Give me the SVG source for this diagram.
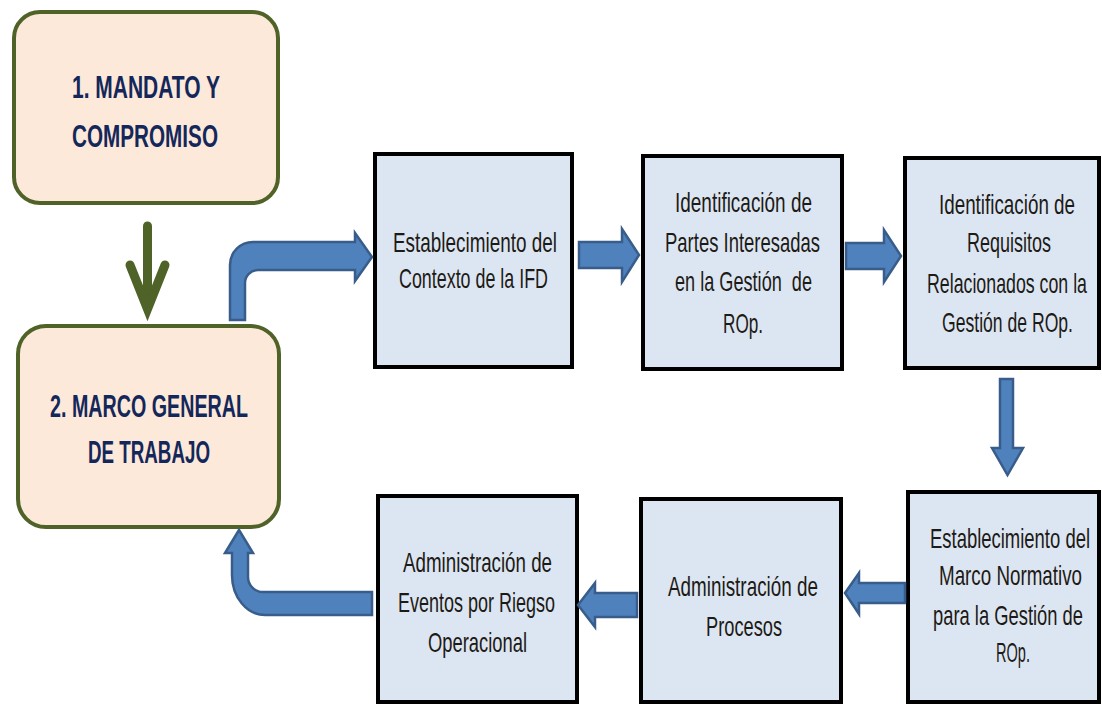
<svg xmlns="http://www.w3.org/2000/svg" width="1102" height="706" viewBox="0 0 1102 706">
  <style>
    .phase { fill: #fde9d9; stroke: #4f6228; stroke-width: 4; }
    .step { fill: #dce6f2; stroke: #000000; stroke-width: 4; }
    .phase-label { font-family: "Liberation Sans", Arial, sans-serif; font-weight: bold; font-size: 31px; fill: #14275a; text-anchor: middle; }
    .step-label { font-family: "Liberation Sans", Arial, sans-serif; font-size: 27px; fill: #1e1a16; text-anchor: middle; white-space: pre; }
    .flow { fill: #4f81bd; stroke: #385d8a; stroke-width: 2.5; stroke-linejoin: miter; }
    .down { fill: none; stroke: #4f6228; stroke-width: 9; stroke-linecap: round; stroke-linejoin: miter; }
  </style>
  <rect width="1102" height="706" fill="#ffffff"/>

  <!-- phase 1 -->
  <g id="mandato">
    <rect class="phase" x="14" y="12" width="264" height="191" rx="26" ry="26"/>
    <text class="phase-label" x="146" y="98" textLength="148" lengthAdjust="spacingAndGlyphs">1. MANDATO Y</text>
    <text class="phase-label" x="145" y="147" textLength="146" lengthAdjust="spacingAndGlyphs">COMPROMISO</text>
  </g>

  <!-- phase 2 -->
  <g id="marco-general">
    <rect class="phase" x="18" y="326" width="261" height="201" rx="28" ry="28"/>
    <text class="phase-label" x="149" y="417" textLength="198" lengthAdjust="spacingAndGlyphs">2. MARCO GENERAL</text>
    <text class="phase-label" x="149" y="463" textLength="122" lengthAdjust="spacingAndGlyphs">DE TRABAJO</text>
  </g>

  <!-- process steps; labels are set in a condensed cut (horizontal scale 0.67) -->
  <g id="contexto">
    <rect class="step" x="375" y="154" width="197" height="213"/>
    <text class="step-label" transform="translate(475,252) scale(0.67,1)" textLength="244.8" lengthAdjust="spacingAndGlyphs">Establecimiento del</text>
    <text class="step-label" transform="translate(473.5,288) scale(0.67,1)" textLength="222.4" lengthAdjust="spacingAndGlyphs">Contexto de la IFD</text>
  </g>

  <g id="partes-interesadas">
    <rect class="step" x="643" y="156" width="199" height="213"/>
    <text class="step-label" transform="translate(743.5,212) scale(0.67,1)" textLength="204.5" lengthAdjust="spacingAndGlyphs">Identificación de</text>
    <text class="step-label" transform="translate(742.5,252) scale(0.67,1)" textLength="231.3" lengthAdjust="spacingAndGlyphs">Partes Interesadas</text>
    <text class="step-label" transform="translate(743.5,291) scale(0.67,1)" textLength="204.5" lengthAdjust="spacingAndGlyphs">en la Gestión  de</text>
    <text class="step-label" transform="translate(743,333) scale(0.67,1)" textLength="59.7" lengthAdjust="spacingAndGlyphs">ROp.</text>
  </g>

  <g id="requisitos">
    <rect class="step" x="905" y="158" width="194" height="210"/>
    <text class="step-label" transform="translate(1007,214) scale(0.67,1)" textLength="203" lengthAdjust="spacingAndGlyphs">Identificación de</text>
    <text class="step-label" transform="translate(1009,252) scale(0.67,1)" textLength="125.4" lengthAdjust="spacingAndGlyphs">Requisitos</text>
    <text class="step-label" transform="translate(1007,293) scale(0.67,1)" textLength="238.8" lengthAdjust="spacingAndGlyphs">Relacionados con la</text>
    <text class="step-label" transform="translate(1007.5,332) scale(0.67,1)" textLength="195.5" lengthAdjust="spacingAndGlyphs">Gestión de ROp.</text>
  </g>

  <g id="marco-normativo">
    <rect class="step" x="908" y="492" width="191" height="210"/>
    <text class="step-label" transform="translate(1010,548) scale(0.67,1)" textLength="238.8" lengthAdjust="spacingAndGlyphs">Establecimiento del</text>
    <text class="step-label" transform="translate(1010.5,585) scale(0.67,1)" textLength="213.4" lengthAdjust="spacingAndGlyphs">Marco Normativo</text>
    <text class="step-label" transform="translate(1008,625) scale(0.67,1)" textLength="223.9" lengthAdjust="spacingAndGlyphs">para la Gestión de</text>
    <text class="step-label" transform="translate(1013,662) scale(0.67,1)" textLength="50.7" lengthAdjust="spacingAndGlyphs">ROp.</text>
  </g>

  <g id="procesos">
    <rect class="step" x="641" y="499" width="200" height="203"/>
    <text class="step-label" transform="translate(743,596) scale(0.67,1)" textLength="223.9" lengthAdjust="spacingAndGlyphs">Administración de</text>
    <text class="step-label" transform="translate(744,636) scale(0.67,1)" textLength="113.4" lengthAdjust="spacingAndGlyphs">Procesos</text>
  </g>

  <g id="eventos">
    <rect class="step" x="378" y="496" width="199" height="206"/>
    <text class="step-label" transform="translate(477.5,572) scale(0.67,1)" textLength="222.4" lengthAdjust="spacingAndGlyphs">Administración de</text>
    <text class="step-label" transform="translate(476.5,612) scale(0.67,1)" textLength="234.3" lengthAdjust="spacingAndGlyphs">Eventos por Riegso</text>
    <text class="step-label" transform="translate(477.5,652) scale(0.67,1)" textLength="147.8" lengthAdjust="spacingAndGlyphs">Operacional</text>
  </g>

  <!-- connectors -->
  <g id="connectors">
    <!-- mandate feeds the framework -->
    <line class="down" x1="147.5" y1="226" x2="147.5" y2="306"/>
    <polyline class="down" points="130,265 147.5,309 165,265"/>
    <!-- framework to context, bent -->
    <path class="flow" d="M230,320 V265 A23,23 0 0 1 253,242 H355 V233 L372,257 L355,281 V270 H258 A13,13 0 0 0 245,283 V320 Z"/>
    <!-- horizontal step arrows -->
    <path class="flow" d="M579,242 H622 V229 L639,255 L622,282 V268 H579 Z"/>
    <path class="flow" d="M846,243 H884 V230 L901,256 L884,282 V269 H846 Z"/>
    <!-- requisitos down to marco normativo -->
    <path class="flow" d="M1000,379 H1013 V448 H1023 L1007.5,475 L992,448 H1000 Z"/>
    <!-- bottom row, right to left -->
    <path class="flow" d="M905,583 V603 H859 V614 L845,593 L859,573 V583 Z"/>
    <path class="flow" d="M637,593 V617 H595 V627 L578,605 L595,583 V593 Z"/>
    <!-- eventos back up to the framework, bent -->
    <path class="flow" d="M239,530 L253,553 H248 V577 A15,15 0 0 0 263,592 H372 V615 H265 A33,40 0 0 1 232,575 V553 H225 Z"/>
  </g>
</svg>
